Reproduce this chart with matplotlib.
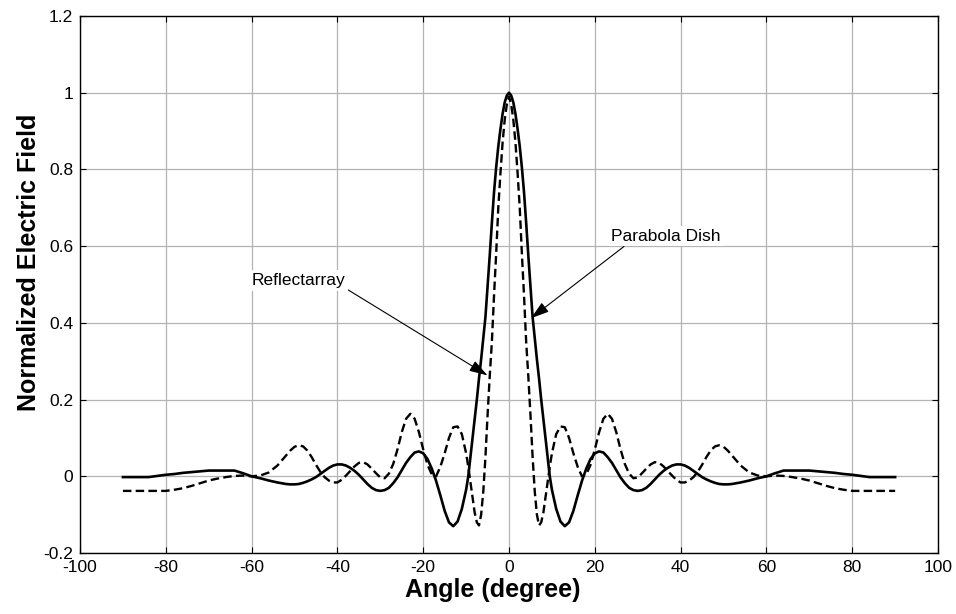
import matplotlib
matplotlib.use("Agg")
import matplotlib.pyplot as plt

plt.rcParams['font.family'] = ['Liberation Sans', 'DejaVu Sans']
plt.rcParams['axes.unicode_minus'] = False

# angle grid (degree), shared by both patterns
angle = [-90, -88, -86, -84, -82, -80, -78, -76, -74, -72, -70, -68, -66, -64, -62, -60,
         -58, -56, -54, -52, -51, -50, -49, -48, -47, -46, -45, -44, -43, -42, -41, -40,
         -39, -38, -37, -36, -35, -34, -33, -32, -31, -30, -29, -28, -27, -26, -25, -24,
         -23, -22, -21, -20, -19, -18, -17, -16, -15, -14, -13, -12, -11, -10,
         -9.5, -9, -8.5, -8, -7.5, -7, -6.5, -6, -5.5, -5, -4.5, -4, -3.5, -3, -2.5, -2,
         -1.5, -1, -0.5, 0, 0.5, 1, 1.5, 2, 2.5, 3, 3.5, 4, 4.5, 5, 5.5, 6, 6.5, 7, 7.5,
         8, 8.5, 9, 9.5, 10, 11, 12, 13, 14, 15, 16, 17, 18, 19, 20, 21, 22, 23, 24, 25,
         26, 27, 28, 29, 30, 31, 32, 33, 34, 35, 36, 37, 38, 39, 40, 41, 42, 43, 44, 45,
         46, 47, 48, 49, 50, 51, 52, 54, 56, 58, 60, 62, 64, 66, 68, 70, 72, 74, 76, 78,
         80, 82, 84, 86, 88, 90]

# Parabola Dish (solid)
dish = [-0.002, -0.002, -0.002, -0.002, 0.001, 0.004, 0.006, 0.009, 0.011, 0.013, 0.015, 0.015, 0.015, 0.015, 0.008, 0.0,
        -0.005, -0.011, -0.016, -0.020, -0.021, -0.021, -0.020, -0.017, -0.013, -0.008, -0.002, 0.006, 0.014, 0.022, 0.028, 0.031,
        0.031, 0.028, 0.022, 0.014, 0.004, -0.008, -0.020, -0.030, -0.036, -0.038, -0.036, -0.030, -0.018, -0.003, 0.016, 0.035,
        0.050, 0.062, 0.065, 0.060, 0.045, 0.020, -0.012, -0.050, -0.090, -0.120, -0.130, -0.118, -0.085, -0.035,
        0.0, 0.05, 0.10, 0.15, 0.20, 0.255, 0.305, 0.36, 0.415, 0.495, 0.575, 0.66, 0.74, 0.805, 0.86, 0.905,
        0.945, 0.975, 0.993, 1.0, 0.993, 0.975, 0.945, 0.905, 0.86, 0.805, 0.74, 0.66, 0.575, 0.495, 0.415, 0.36, 0.305, 0.255, 0.20,
        0.15, 0.10, 0.05, 0.0, -0.035, -0.085, -0.118, -0.130, -0.120, -0.090, -0.050, -0.012, 0.020, 0.045, 0.060, 0.065, 0.062, 0.050, 0.035, 0.016,
        -0.003, -0.018, -0.030, -0.036, -0.038, -0.036, -0.030, -0.020, -0.008, 0.004, 0.014, 0.022, 0.028, 0.031, 0.031, 0.028, 0.022, 0.014, 0.006, -0.002,
        -0.008, -0.013, -0.017, -0.020, -0.021, -0.021, -0.020, -0.016, -0.011, -0.005, 0.0, 0.008, 0.015, 0.015, 0.015, 0.015, 0.013, 0.011, 0.009, 0.006,
        0.004, 0.001, -0.002, -0.002, -0.002, -0.002]

# Reflectarray (dashed)
reflect = [-0.038, -0.038, -0.038, -0.038, -0.038, -0.038, -0.035, -0.031, -0.025, -0.018, -0.011, -0.006, -0.002, 0.001, 0.002, 0.0,
           0.002, 0.010, 0.028, 0.054, 0.067, 0.077, 0.081, 0.078, 0.067, 0.050, 0.030, 0.012, -0.002, -0.011, -0.016, -0.016,
           -0.009, 0.002, 0.014, 0.026, 0.035, 0.037, 0.031, 0.020, 0.008, -0.003, -0.005, 0.007, 0.032, 0.070, 0.115, 0.150,
           0.163, 0.150, 0.115, 0.070, 0.030, 0.005, 0.0, 0.025, 0.060, 0.100, 0.128, 0.130, 0.110, 0.060,
           0.025, -0.015, -0.055, -0.095, -0.120, -0.128, -0.10, -0.04, 0.05, 0.16, 0.26, 0.35, 0.47, 0.58, 0.70, 0.79,
           0.87, 0.93, 0.97, 0.99, 0.97, 0.93, 0.87, 0.79, 0.70, 0.58, 0.47, 0.35, 0.26, 0.16, 0.05, -0.04, -0.10, -0.128, -0.120,
           -0.095, -0.055, -0.015, 0.025, 0.060, 0.110, 0.130, 0.128, 0.100, 0.060, 0.025, 0.0, 0.005, 0.030, 0.070, 0.115, 0.150, 0.163, 0.150, 0.115,
           0.070, 0.032, 0.007, -0.005, -0.003, 0.008, 0.020, 0.031, 0.037, 0.035, 0.026, 0.014, 0.002, -0.009, -0.016, -0.016, -0.011, -0.002, 0.012, 0.030,
           0.050, 0.067, 0.078, 0.081, 0.077, 0.067, 0.054, 0.028, 0.010, 0.002, 0.0, 0.002, 0.001, -0.002, -0.006, -0.011, -0.018, -0.025, -0.031, -0.035,
           -0.038, -0.038, -0.038, -0.038, -0.038, -0.038]

xticks = [-100, -80, -60, -40, -20, 0, 20, 40, 60, 80, 100]
yticks = [-0.2, 0, 0.2, 0.4, 0.6, 0.8, 1, 1.2]
ytick_labels = ["-0.2", "0", "0.2", "0.4", "0.6", "0.8", "1", "1.2"]

fig = plt.figure(figsize=(9.56, 6.14), dpi=100)
ax = fig.add_axes([0.0837, 0.0993, 0.8975, 0.8746])

ax.plot(angle, dish, color='black', lw=1.9, zorder=3)
ax.plot(angle, reflect, color='black', lw=1.7, ls=(0, (3.6, 1.8)), zorder=3)

ax.set_xlim(-100, 100)
ax.set_ylim(-0.2, 1.2)
ax.set_xticks(xticks)
ax.set_yticks(yticks)
ax.set_yticklabels(ytick_labels)
ax.grid(True, color='#b4b4b4', lw=0.9, ls='-')
ax.set_axisbelow(True)
ax.tick_params(direction='in', length=4, width=0.8, top=True, right=True, labelsize=12.5, pad=5)
for s in ax.spines.values():
    s.set_linewidth(1.0)

ax.set_xlabel("Angle (degree)", fontsize=18, fontweight='bold')
ax.set_ylabel("Normalized Electric Field", fontsize=18, fontweight='bold')
ax.xaxis.set_label_coords(0.481, -0.047)
ax.yaxis.set_label_coords(-0.046, 0.542)

ap = dict(arrowstyle='-|>,head_length=0.9,head_width=0.28', color='black', lw=0.8, shrinkA=0, shrinkB=0)
ax.annotate("Reflectarray", xy=(-5.0, 0.263), xytext=(-60, 0.51), fontsize=12.5, va='center', ha='left',
            bbox=dict(facecolor='white', edgecolor='none', pad=2), arrowprops=dict(ap, relpos=(1.0, 0.0)), zorder=4)
ax.annotate("Parabola Dish", xy=(5.1, 0.412), xytext=(23.8, 0.626), fontsize=12.5, va='center', ha='left',
            bbox=dict(facecolor='white', edgecolor='none', pad=2), arrowprops=dict(ap, relpos=(0.15, 0.0)), zorder=4)

fig.savefig("out.png", dpi=100)
